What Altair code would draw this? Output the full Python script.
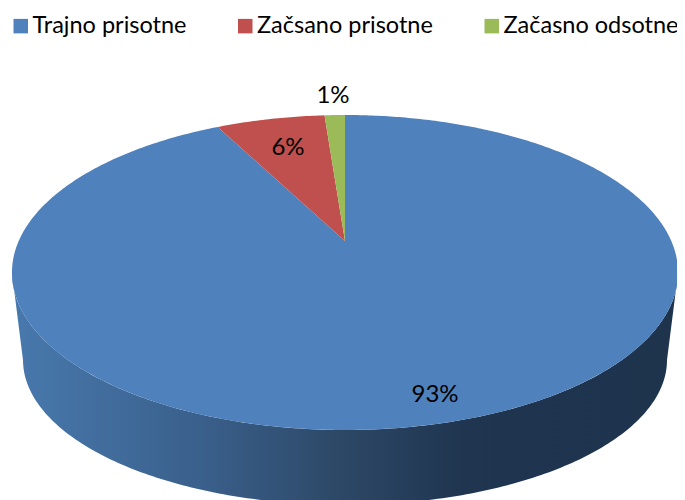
import numpy as np
import pandas as pd
import altair as alt

categories = ["Trajno prisotne", "Začsano prisotne", "Začasno odsotne"]
shares = [92.4, 6.4, 1.2]
labels = ["93%", "6%", "1%"]
colors = ["#4F81BD", "#C0504D", "#9BBB59"]

# page-pixel layout of the tilted disc
AX, AY = 345.0, 241.0   # projected pie centre
RX, RY, K = 326.3, 151.2, 0.2
LOW_CX, LOW_CY, LOW_RX, LOW_RY = 345.0, 360.0, 322.0, 145.0


def project(theta):
    u, v = np.sin(theta), np.cos(theta)
    d = 1 + K * v
    return AX + RX * u / d, AY - RY * v / d


rows = []
edges = np.cumsum([0.0] + shares) / sum(shares) * 2 * np.pi
for name, a, b in zip(categories, edges[:-1], edges[1:]):
    t = np.linspace(a, b, max(int((b - a) * 90), 12))
    x, y = project(t)
    xs = [AX] + list(x)
    ys = [AY] + list(y)
    rows += [{"slice": name, "x": p, "y": q, "i": i} for i, (p, q) in enumerate(zip(xs, ys))]
slices = pd.DataFrame(rows)

# side wall: front half of the top rim, back along the lower rim
t = np.linspace(np.radians(80), np.radians(280), 240)
tx, ty = project(t)
keep = ty >= 272
tx, ty = tx[keep], ty[keep]
s = np.linspace(0, np.pi, 200)
bx = LOW_CX - LOW_RX * np.cos(s)
by = LOW_CY + LOW_RY * np.sin(s)
wall = pd.DataFrame({
    "x": list(tx) + list(bx),
    "y": list(ty) + list(by),
    "i": range(len(tx) + len(bx)),
})

lab = pd.DataFrame({
    "label": labels,
    "x": [435, 288, 333],
    "y": [395, 148, 96],
})

X = alt.X("x:Q", axis=None, scale=alt.Scale(domain=[8, 677], nice=False, zero=False))
Y = alt.Y("y:Q", axis=None, scale=alt.Scale(domain=[500, 8], nice=False, zero=False))

wall_layer = alt.Chart(wall).mark_line(
    clip=True,
    strokeWidth=0,
    fill=alt.Gradient(
        gradient="linear", x1=0, x2=1, y1=0, y2=0,
        stops=[
            alt.GradientStop(offset=0, color="#4879AD"),
            alt.GradientStop(offset=0.28, color="#3A608C"),
            alt.GradientStop(offset=0.5, color="#2C4765"),
            alt.GradientStop(offset=0.68, color="#1F3550"),
            alt.GradientStop(offset=1, color="#1E334C"),
        ],
    ),
).encode(x=X, y=Y, order="i:Q")

slice_layer = alt.Chart(slices).mark_line(strokeWidth=0).encode(
    x=X,
    y=Y,
    order="i:Q",
    fill=alt.Fill(
        "slice:N",
        scale=alt.Scale(domain=categories, range=colors),
        legend=alt.Legend(
            title=None,
            orient="none",
            legendX=1,
            legendY=6,
            direction="horizontal",
            columns=3,
            symbolType="square",
            symbolSize=210,
            symbolStrokeWidth=0,
            labelFont="Lato",
            labelFontSize=23.5,
            labelColor="#000000",
            labelOffset=0,
            columnPadding=46.5,
            labelLimit=300,
        ),
    ),
)

text_layer = alt.Chart(lab).mark_text(font="Lato", fontSize=24, color="#000000").encode(
    x=X, y=Y, text="label:N"
)

chart = (
    alt.layer(wall_layer, slice_layer, text_layer)
    .properties(width=669, height=492, padding=0, autosize=alt.AutoSizeParams(type="none"))
    .configure_view(stroke=None)
)

chart.save("out.html", embed_options={"renderer": "svg", "actions": False})
